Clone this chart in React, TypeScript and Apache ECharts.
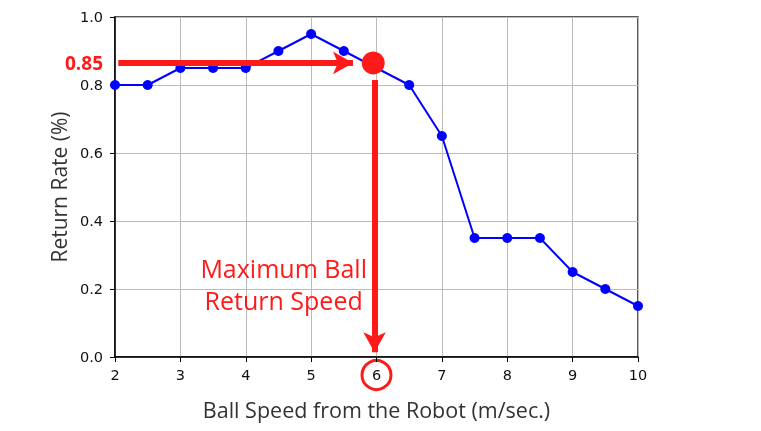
import React, { useEffect, useRef } from "react";
import * as echarts from "echarts";

const speeds = [2, 2.5, 3, 3.5, 4, 4.5, 5, 5.5, 6, 6.5, 7, 7.5, 8, 8.5, 9, 9.5, 10];
const returnRates = [0.8, 0.8, 0.85, 0.85, 0.85, 0.9, 0.95, 0.9, 0.85, 0.8, 0.65, 0.35, 0.35, 0.35, 0.25, 0.2, 0.15];
const highlightPoint = [5.95, 0.865];
const hArrow = [[2.05, 0.865], [5.64, 0.865]];
const vArrow = [[5.97, 0.815], [5.97, 0.014]];
const highlightLabel = "0.85";
const noteLines = ["Maximum Ball", "Return Speed"];
const xTitle = "Ball Speed from the Robot (m/sec.)";
const yTitle = "Return Rate (%)";

const RED = "#ff1a1a";

export default function App() {
  const ref = useRef<HTMLDivElement>(null);
  useEffect(() => {
    if (!ref.current) return;
    const chart = echarts.init(ref.current, null, { renderer: "svg" });
    const tickFont = { fontFamily: "DejaVu Sans", fontSize: 14.5, color: "#111" };
    chart.setOption({
      animation: false,
      grid: {
        left: 115,
        right: 123,
        top: 17,
        bottom: 74,
        show: true,
        borderColor: "#222",
        borderWidth: 1.5,
        backgroundColor: "transparent",
      },
      xAxis: {
        type: "value",
        min: 2,
        max: 10,
        interval: 1,
        name: xTitle,
        nameLocation: "middle",
        nameGap: 41,
        nameTextStyle: { fontFamily: "Open Sans", fontSize: 21.5, color: "#333" },
        axisLine: { show: true, lineStyle: { color: "#000", width: 1.5 } },
        axisTick: { show: true, length: 5, lineStyle: { color: "#000" } },
        axisLabel: { ...tickFont, margin: 10 },
        splitLine: { show: true, lineStyle: { color: "#bbbbbb", width: 1 } },
      },
      yAxis: {
        type: "value",
        min: 0,
        max: 1,
        interval: 0.2,
        name: yTitle,
        nameLocation: "middle",
        nameGap: 46,
        nameTextStyle: { fontFamily: "Open Sans", fontSize: 21, color: "#333" },
        axisLine: { show: true, lineStyle: { color: "#000", width: 1.5 } },
        axisTick: { show: true, length: 5, lineStyle: { color: "#000" } },
        axisLabel: { ...tickFont, margin: 12, formatter: (v: number) => v.toFixed(1) },
        splitLine: { show: true, lineStyle: { color: "#bbbbbb", width: 1 } },
      },
      series: [
        {
          type: "line",
          data: speeds.map((s, i) => [s, returnRates[i]]),
          symbol: "circle",
          symbolSize: 10,
          lineStyle: { color: "#0000ff", width: 2 },
          itemStyle: { color: "#0000ff" },
          clip: false,
          z: 2,
        },
        {
          type: "scatter",
          data: [highlightPoint],
          symbolSize: 23,
          itemStyle: { color: RED, opacity: 1 },
          z: 5,
          markLine: {
            silent: true,
            symbol: ["none", "arrow"],
            symbolSize: [17, 20],
            label: { show: false },
            lineStyle: { color: RED, width: 6, type: "solid", opacity: 1 },
            data: [
              [{ coord: hArrow[0] }, { coord: hArrow[1] }],
              [{ coord: vArrow[0] }, { coord: vArrow[1] }],
            ],
          },
        },
      ],
    });

    const p = chart.convertToPixel({ gridIndex: 0 }, highlightPoint) as number[];
    const tick6 = chart.convertToPixel({ gridIndex: 0 }, [6, 0]) as number[];
    const noteAnchor = chart.convertToPixel({ gridIndex: 0 }, [4.58, 0.31]) as number[];
    const axisLeft = chart.convertToPixel({ gridIndex: 0 }, [2, 0]) as number[];
    chart.setOption({
      graphic: [
        {
          type: "text",
          x: axisLeft[0] - 12,
          y: p[1],
          style: {
            text: highlightLabel,
            fill: RED,
            font: "bold 19px 'Open Sans'",
            align: "right",
            verticalAlign: "middle",
          },
        },
        {
          type: "circle",
          shape: { cx: tick6[0], cy: tick6[1] + 18, r: 14.5 },
          style: { fill: "none", stroke: RED, lineWidth: 3 },
        },
        {
          type: "text",
          x: noteAnchor[0],
          y: noteAnchor[1],
          style: {
            text: noteLines.join("\n"),
            fill: RED,
            font: "25px 'Open Sans'",
            align: "center",
            verticalAlign: "top",
            lineHeight: 32,
          },
        },
      ],
    });
    return () => chart.dispose();
  }, []);
  return <div ref={ref} style={{ position: "fixed", left: 0, top: 0, width: 761, height: 431 }} />;
}
